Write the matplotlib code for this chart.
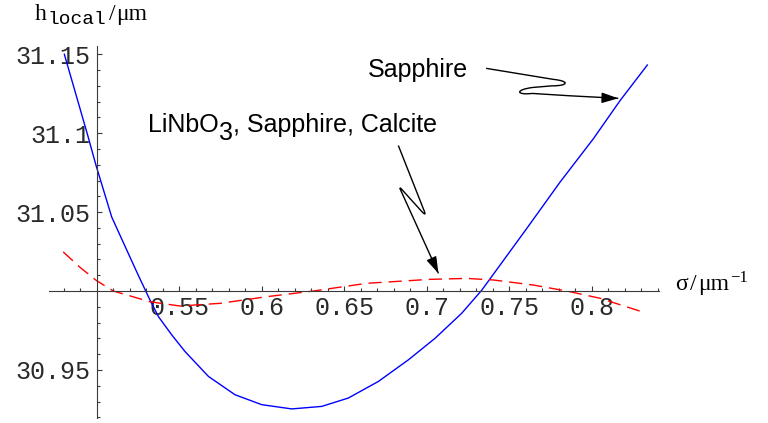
"""
plot.py  -  local thickness h_local vs. sigma, Mathematica-style axes.
Writes out.png (768x423).
"""
import numpy as np
import matplotlib
matplotlib.use("Agg")
import matplotlib.pyplot as plt
from matplotlib.path import Path
from matplotlib.patches import PathPatch

# ---------- data ----------
sig_sapphire = [0.4805, 0.4944, 0.4997, 0.5092, 0.5183, 0.5253, 0.5324, 0.5375,
                0.5456, 0.5536, 0.5678, 0.5839, 0.6001, 0.6183, 0.6365, 0.6526,
                0.6708, 0.6890, 0.7052, 0.7213, 0.7335, 0.7607, 0.7809, 0.8011,
                0.8173, 0.8338]
h_sapphire = [31.150, 31.0996, 31.0796, 31.0469, 31.026, 31.010, 30.9943, 30.9838,
              30.9722, 30.9617, 30.9459, 30.9343, 30.928, 30.9253, 30.9269, 30.9322,
              30.9427, 30.9564, 30.9701, 30.9859, 31.0006, 31.0396, 31.069, 31.0965,
              31.1207, 31.1432]

sig_mix = [0.4798, 0.4900, 0.5000, 0.5102, 0.5324, 0.5506, 0.5748, 0.6031, 0.6314,
           0.6638, 0.7021, 0.7243, 0.7405, 0.7647, 0.7849, 0.8052, 0.8304]
h_mix = [31.0248, 31.015, 31.0066, 31.000, 30.9932, 30.9905, 30.9922, 30.9964,
         31.000, 31.0049, 31.0074, 31.008, 31.007, 31.0038, 31.000, 30.9954, 30.9869]

x_major = [0.55, 0.6, 0.65, 0.7, 0.75, 0.8]
x_labels = ["0.55", "0.6", "0.65", "0.7", "0.75", "0.8"]
y_major = [30.95, 31.05, 31.1, 31.15]
y_labels = ["30.95", "31.05", "31.1", "31.15"]

AXCOL = "#3a3a3a"
SANS = "Liberation Sans"
MONO = "Liberation Mono"
SERIF = "Liberation Serif"


def chained_text(ax, x, y, pieces):
    """Write text pieces one after another; pieces = (text, dx_px, dy_px, size, family)."""
    s, _, _, size, fam = pieces[0]
    prev = ax.text(x, y, s, ha="left", va="bottom", fontsize=size, family=fam)
    for s, dx, dy, size, fam in pieces[1:]:
        prev = ax.annotate(s, xy=(1, 0), xycoords=prev, xytext=(dx, dy),
                           textcoords="offset pixels", ha="left", va="bottom",
                           fontsize=size, family=fam)
    return prev


def squiggle(ax, verts, codes, tip_from):
    """Draw a wavy arrow body as a path and put a filled head on its end."""
    body = PathPatch(Path(verts, codes), fc="none", ec="black", lw=1.0,
                     transform=ax.transData, capstyle="butt")
    ax.add_patch(body)
    ax.annotate("", xy=verts[-1], xytext=tip_from,
                arrowprops=dict(arrowstyle="-|>,head_length=1.0,head_width=0.32",
                                mutation_scale=10, color="black", lw=1.0,
                                shrinkA=0, shrinkB=0))


fig = plt.figure(figsize=(7.68, 4.23), dpi=100)
ax = fig.add_axes([0.06445, 0.01277, 0.7939, 0.8794])

ax.plot(sig_sapphire, h_sapphire, color="#0000ff", lw=1.0)
ax.plot(sig_mix, h_mix, color="#ff0000", lw=1.0, linestyle=(0, (9.5, 5)))

ax.set_xlim(0.4715, 0.841)
ax.set_ylim(30.9198, 31.1555)

# axes cross at (0.5, 31.0)
for side in ("top", "right"):
    ax.spines[side].set_visible(False)
ax.spines["left"].set_position(("data", 0.5))
ax.spines["bottom"].set_position(("data", 31.0))
for side in ("left", "bottom"):
    ax.spines[side].set_color(AXCOL)
    ax.spines[side].set_linewidth(0.8)

x_minor = [v for v in np.round(np.arange(0.48, 0.845, 0.01), 2)
           if v not in x_major and v != 0.5]
y_minor = [v for v in np.round(np.arange(30.92, 31.155, 0.01), 2)
           if v not in y_major and v != 31.0]

ax.set_xticks(x_major, x_labels)
ax.set_xticks(x_minor, minor=True)
ax.set_yticks(y_major, y_labels)
ax.set_yticks(y_minor, minor=True)

ax.tick_params(which="both", direction="in", color=AXCOL, width=0.8)
ax.tick_params(which="major", length=3.4)
ax.tick_params(which="minor", length=2.2)
ax.tick_params(axis="x", which="major", pad=3.5)
ax.tick_params(axis="y", which="major", pad=4.5)
for lab in ax.get_xticklabels() + ax.get_yticklabels():
    lab.set_family(MONO)
    lab.set_fontsize(18)
    lab.set_color("#2a2a2a")

# axis labels
chained_text(ax, 0.4627, 31.1685, [("h", 0, 0, 17, SERIF),
                                   ("local", 1, -3, 14, MONO),
                                   ("/", 2, 3, 17, SERIF),
                                   ("μm", 1, 0, 17, SERIF)])
chained_text(ax, 0.8506, 30.9975, [("σ", 0, 0, 17, SERIF),
                                   ("/", 2, 0, 17, SERIF),
                                   ("μm", 2, 0, 17, SERIF),
                                   ("\u22121", 1, 9, 12, SERIF)])

# annotations
ax.text(0.6645, 31.1327, "Sapphire", ha="left", va="bottom",
        fontsize=18, family=SANS)
chained_text(ax, 0.5312, 31.0973, [("LiNbO", 0, 0, 18, SANS),
                                   ("3", 0, -8, 18, SANS),
                                   (", Sapphire, Calcite", 0, 8, 18, SANS)])

M, L, C3, C4 = Path.MOVETO, Path.LINETO, Path.CURVE3, Path.CURVE4

# "Sapphire" arrow: Z-shaped squiggle ending on the blue curve
squiggle(ax,
         [(0.7361, 31.1411), (0.7769, 31.1341),
          (0.7870, 31.1330), (0.7860, 31.1300), (0.7760, 31.1300),
          (0.7645, 31.1290),
          (0.7532, 31.1275), (0.7545, 31.1240), (0.7640, 31.1252),
          (0.7830, 31.1238), (0.8162, 31.1221)],
         [M, L, C4, C4, C4, L, C4, C4, C4, C3, C3],
         tip_from=(0.8070, 31.1224))

# "LiNbO3, Sapphire, Calcite" arrow: ends on the red curve
squiggle(ax,
         [(0.6829, 31.0922), (0.6983, 31.0515),
          (0.7003, 31.0467), (0.6970, 31.0505),
          (0.6855, 31.0638),
          (0.6824, 31.0676), (0.6845, 31.0635),
          (0.7072, 31.0112)],
         [M, L, C3, C3, L, C3, C3, L],
         tip_from=(0.7034, 31.0198))

fig.savefig("out.png", dpi=100)
